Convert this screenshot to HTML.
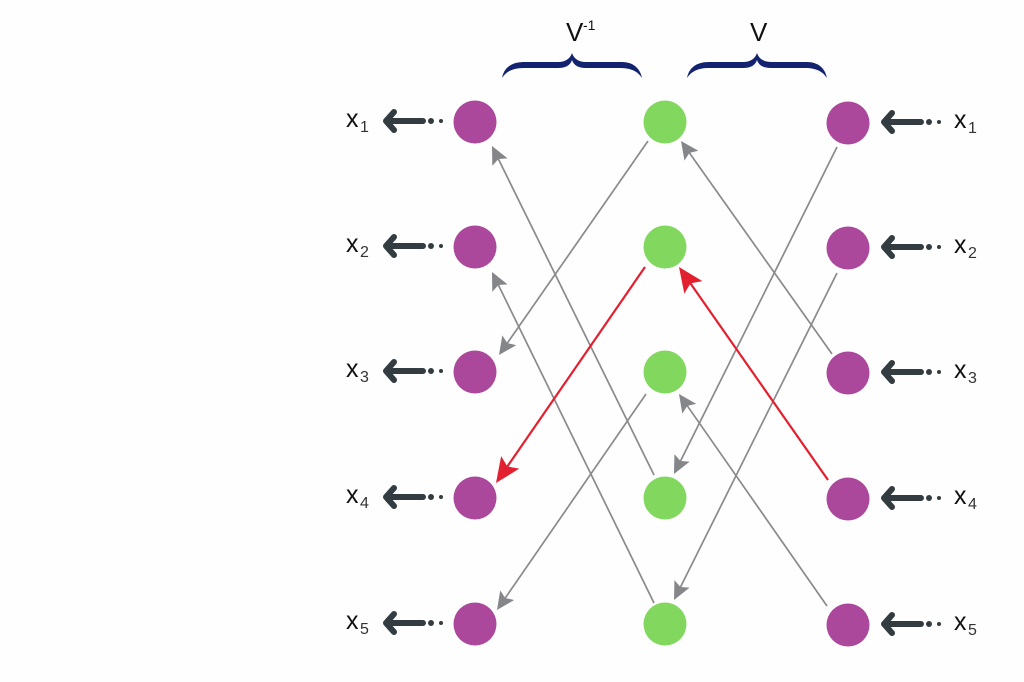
<!DOCTYPE html>
<html>
<head>
<meta charset="utf-8">
<style>
html,body{margin:0;padding:0;background:#fefefe;width:1024px;height:682px;overflow:hidden}
svg{display:block}
text{font-family:"Liberation Sans",sans-serif;fill:#111}
.m{font-size:25px}
.s{font-size:16px;fill:#333}
.h{font-size:26px}
</style>
</head>
<body>
<svg width="1024" height="682" viewBox="0 0 1024 682" xmlns="http://www.w3.org/2000/svg">
<defs>
<path id="brace" d="M0 25C2 15 9 9 22 9H56C63 9 68 6 70 0C72 6 77 9 84 9H120C131 9 138 15 140 25C136 19 130 15 118 15H84C77 15 72 13 70 7C68 13 63 15 56 15H22C10 15 4 19 0 25Z" fill="#14236f"/>
<g id="ar">
<path d="M40 0H3M11 -9L3 0L11 9" fill="none" stroke="#333c40" stroke-width="6" stroke-linecap="round" stroke-linejoin="round"/>
<circle cx="48" cy="0" r="3" fill="#333c40"/><circle cx="58" cy="0" r="2" fill="#333c40"/>
</g>
<polygon id="gh" points="0,0 -18,-8.5 -14.5,0 -18,8.5" fill="#85868a"/>
<polygon id="rh" points="0,0 -25,-11 -20,0 -25,11" fill="#e2202f"/>
</defs>

<use href="#brace" x="502" y="53"/>
<use href="#brace" x="687" y="53"/>
<text class="h" x="566" y="41">V</text><text x="583" y="30" font-size="14">-1</text>
<text class="h" x="750" y="41">V</text>

<!-- gray connectors -->
<g stroke="#8a8a8c" stroke-width="1.7" fill="none">
<line x1="654" y1="475" x2="497.3" y2="156.8"/>
<line x1="654" y1="603" x2="497.3" y2="282.8"/>
<line x1="648" y1="141" x2="505.9" y2="345.1"/>
<line x1="646" y1="394" x2="503.8" y2="600.1"/>
<line x1="837" y1="147" x2="679.4" y2="463.3"/>
<line x1="837" y1="273" x2="679.4" y2="589.3"/>
<line x1="832" y1="354" x2="687.9" y2="150.8"/>
<line x1="827" y1="606" x2="685.9" y2="403.8"/>
</g>
<use href="#gh" transform="translate(492,146) rotate(-116.2)"/>
<use href="#gh" transform="translate(492,272) rotate(-116.1)"/>
<use href="#gh" transform="translate(499,355) rotate(124.8)"/>
<use href="#gh" transform="translate(497,610) rotate(124.6)"/>
<use href="#gh" transform="translate(674,474) rotate(116.5)"/>
<use href="#gh" transform="translate(674,600) rotate(116.5)"/>
<use href="#gh" transform="translate(681,141) rotate(-125.3)"/>
<use href="#gh" transform="translate(679,394) rotate(-124.9)"/>

<!-- red connectors -->
<g stroke="#e2202f" stroke-width="2.2" fill="none">
<line x1="645" y1="267" x2="506.2" y2="468.2"/>
<line x1="828" y1="480" x2="689.3" y2="281.8"/>
</g>
<use href="#rh" transform="translate(496,483) rotate(124.6)"/>
<use href="#rh" transform="translate(679,267) rotate(-125)"/>

<!-- circles -->
<g fill="#ab489b">
<circle cx="475" cy="122" r="21.5"/><circle cx="475" cy="247" r="21.5"/><circle cx="475" cy="372" r="21.5"/><circle cx="475" cy="498" r="21.5"/><circle cx="475" cy="624" r="21.5"/>
<circle cx="848" cy="123" r="21.5"/><circle cx="848" cy="248" r="21.5"/><circle cx="848" cy="373" r="21.5"/><circle cx="848" cy="499" r="21.5"/><circle cx="848" cy="625" r="21.5"/>
</g>
<g fill="#82d85f">
<circle cx="665" cy="122" r="21.5"/><circle cx="665" cy="247" r="21.5"/><circle cx="665" cy="372" r="21.5"/><circle cx="665" cy="498" r="21.5"/><circle cx="665" cy="624" r="21.5"/>
</g>

<!-- left arrows -->
<use href="#ar" x="383" y="121"/><use href="#ar" x="383" y="246"/><use href="#ar" x="383" y="371"/><use href="#ar" x="383" y="497"/><use href="#ar" x="383" y="623"/>
<!-- right arrows -->
<use href="#ar" x="881" y="122"/><use href="#ar" x="881" y="247"/><use href="#ar" x="881" y="372"/><use href="#ar" x="881" y="498"/><use href="#ar" x="881" y="624"/>

<!-- left labels -->
<text class="m" x="346" y="127">x</text><text class="s" x="360" y="132">1</text>
<text class="m" x="346" y="252">x</text><text class="s" x="360" y="257">2</text>
<text class="m" x="346" y="377">x</text><text class="s" x="360" y="382">3</text>
<text class="m" x="346" y="503">x</text><text class="s" x="360" y="508">4</text>
<text class="m" x="346" y="629">x</text><text class="s" x="360" y="634">5</text>
<!-- right labels -->
<text class="m" x="954" y="128">x</text><text class="s" x="968" y="133">1</text>
<text class="m" x="954" y="253">x</text><text class="s" x="968" y="258">2</text>
<text class="m" x="954" y="378">x</text><text class="s" x="968" y="383">3</text>
<text class="m" x="954" y="504">x</text><text class="s" x="968" y="509">4</text>
<text class="m" x="954" y="630">x</text><text class="s" x="968" y="635">5</text>
</svg>
</body>
</html>
